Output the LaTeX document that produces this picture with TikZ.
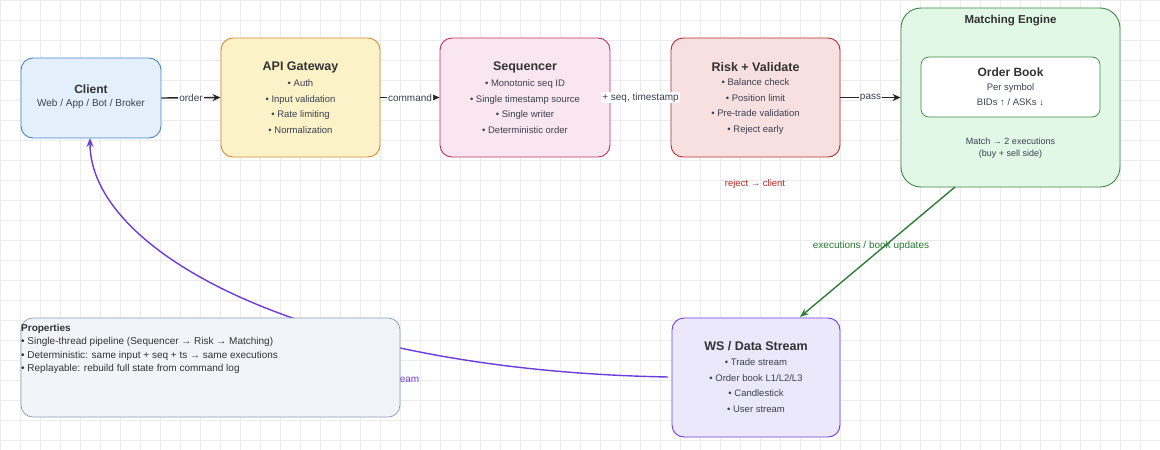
\documentclass[tikz,border=0pt]{standalone}
\usepackage{fontspec}
\setmainfont{Liberation Sans}
\usetikzlibrary{arrows.meta}
\definecolor{txt}{HTML}{3A4150}
\definecolor{purp}{RGB}{110,60,220}
\begin{document}
\begin{tikzpicture}[x=1pt,y=-1pt,
  box/.style={draw,rounded corners=12pt,line width=0.9pt,inner sep=0pt},
  ttl/.style={font=\bfseries\fontsize{12.5}{15}\selectfont,text=black!80},
  bl/.style={align=center,text=txt,font=\fontsize{9.5}{15.5}\selectfont},
  lab/.style={font=\fontsize{10}{12}\selectfont,text=txt,inner sep=1pt},
  arr/.style={-{Stealth[length=8pt,width=7pt]},line width=1.4pt,draw=black!85}]
\useasboundingbox (0,0) rectangle (1160,450);
\fill[white] (0,0) rectangle (1160,450);
\foreach \i in {0,20,...,1160} \draw[black!8,line width=0.5pt] (\i,0) -- (\i,450);
\foreach \j in {0,20,...,440} \draw[black!8,line width=0.5pt] (0,\j) -- (1160,\j);
% purple feedback curve
\draw[-{Stealth[length=9pt,width=7pt]},line width=1.4pt,draw=purp] (668,377) .. controls (300,370) and (90,250) .. (90,138);
\node[font=\fontsize{10}{12}\selectfont,text=purp] (strm) at (404,379) {stream};
% boxes
\node[box,fill={rgb,255:red,227;green,239;blue,251},draw={rgb,255:red,74;green,134;blue,200},minimum width=140,minimum height=80] (client) at (91,98) {};
\node[ttl,font=\bfseries\fontsize{12}{15}\selectfont] (clientt) at (91,89) {Client};
\node[bl,font=\fontsize{10}{12}\selectfont] (clients) at (91,104) {Web / App / Bot / Broker};

\node[box,fill={rgb,255:red,252;green,242;blue,200},draw={rgb,255:red,214;green,140;blue,50},minimum width=159,minimum height=119] (api) at (300.5,97.5) {};
\node[ttl] (apit) at (300.5,67) {API Gateway};
\node[bl] (apib) at (300.5,106.5) {• Auth\\• Input validation\\• Rate limiting\\• Normalization};

\node[box,fill={rgb,255:red,250;green,230;blue,240},draw={rgb,255:red,190;green,50;blue,90},minimum width=170,minimum height=119] (seq) at (525,97.5) {};
\node[ttl] (seqt) at (525,67) {Sequencer};
\node[bl] (seqb) at (525,106.5) {• Monotonic seq ID\\• Single timestamp source\\• Single writer\\• Deterministic order};

\node[box,fill={rgb,255:red,248;green,224;blue,224},draw={rgb,255:red,180;green,45;blue,45},minimum width=169,minimum height=119] (risk) at (755.5,97.5) {};
\node[ttl] (riskt) at (755.5,67) {Risk + Validate};
\node[bl] (riskb) at (755.5,106.5) {• Balance check\\• Position limit\\• Pre-trade validation\\• Reject early};

\node[box,rounded corners=20pt,fill={rgb,255:red,226;green,248;blue,230},draw={rgb,255:red,60;green,135;blue,70},minimum width=219,minimum height=179] (me) at (1010.5,97.5) {};
\node[ttl,font=\bfseries\fontsize{11.5}{14}\selectfont] (metitle) at (1010.5,21) {Matching Engine};
\node[box,rounded corners=8pt,fill=white,draw={rgb,255:red,60;green,135;blue,70},line width=0.7pt,minimum width=179,minimum height=60] (ob) at (1010.5,87) {};
\node[ttl,font=\bfseries\fontsize{12}{15}\selectfont] (obt) at (1010.5,72) {Order Book};
\node[bl,font=\fontsize{9.5}{14.5}\selectfont] (obs) at (1010.5,94.5) {Per symbol\\BIDs ↑ / ASKs ↓};
\node[align=center,text=txt,font=\fontsize{9}{12}\selectfont] (match) at (1010.5,148) {Match → 2 executions\\(buy + sell side)};

\node[box,fill={rgb,255:red,236;green,232;blue,252},draw=purp,minimum width=168,minimum height=119] (ws) at (756,377.5) {};
\node[ttl] (wst) at (756,346) {WS / Data Stream};
\node[bl,font=\fontsize{9.5}{15.7}\selectfont] (wsb) at (756,385.5) {• Trade stream\\• Order book L1/L2/L3\\• Candlestick\\• User stream};

\node[box,rounded corners=12pt,fill={rgb,255:red,241;green,244;blue,249},draw={rgb,255:red,140;green,154;blue,184},line width=0.7pt,minimum width=379,minimum height=99] (props) at (210.5,367.5) {};
\node[anchor=north west,align=left,text=black!80,font=\fontsize{10}{13.5}\selectfont,inner sep=0pt] (ptext) at (21,324)
  {\textbf{Properties}\\• Single-thread pipeline (Sequencer → Risk → Matching)\\• Deterministic: same input + seq + ts → same executions\\• Replayable: rebuild full state from command log};
% arrows
\draw[arr] (client.east) -- node[lab,fill=white] {order} (api.west);
\draw[arr] (api.east) -- node[lab,fill=white] {command} (seq.west);
\draw[arr] (seq.east) -- node[lab,fill=white] {+ seq, timestamp} (risk.west);
\draw[arr] (risk.east) -- node[lab,fill=white] {pass} (me.west);
\coordinate (mebot) at (955,187);
\draw[-{Stealth[length=9pt,width=7pt]},line width=1.4pt,draw={rgb,255:red,50;green,125;blue,60}] (mebot) -- (800,317);
\node[font=\fontsize{10}{12}\selectfont,text={rgb,255:red,40;green,120;blue,50}] (execlab) at (871,246) {executions / book updates};
\node[font=\fontsize{9.5}{12}\selectfont,text={rgb,255:red,185;green,40;blue,40}] (rej) at (755,184) {reject → client};
\end{tikzpicture}
\end{document}
